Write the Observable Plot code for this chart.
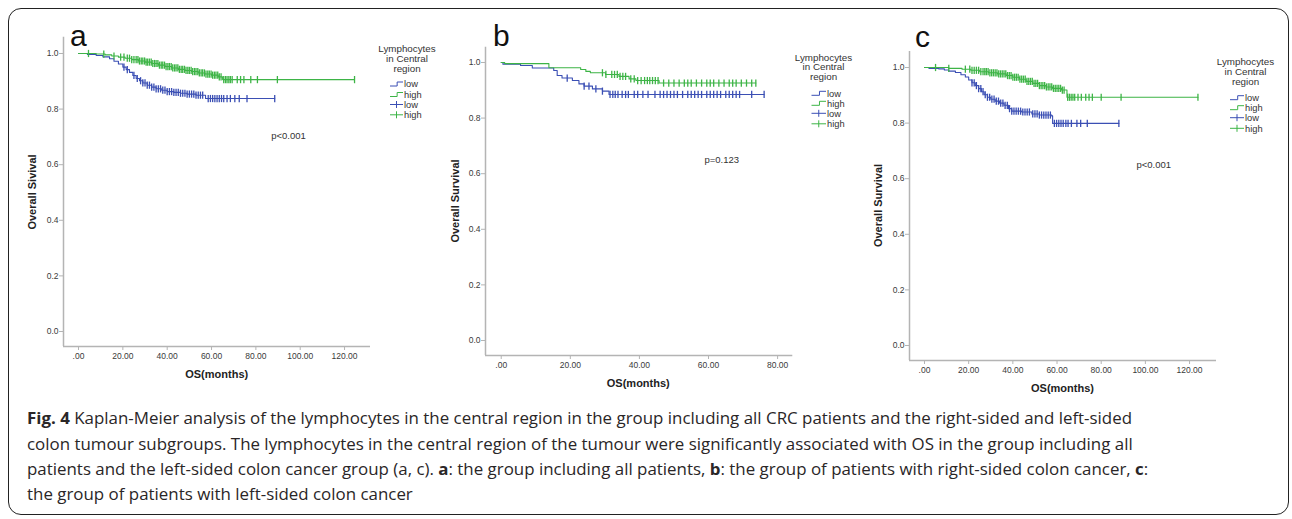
<!DOCTYPE html>
<html><head><meta charset="utf-8">
<script src="https://cdn.jsdelivr.net/npm/d3@7"></script>
<script src="https://cdn.jsdelivr.net/npm/@observablehq/plot@0.6"></script>
<style>
body{margin:0;background:#fff;}
#root{position:relative;width:1292px;height:519px;overflow:hidden;font-family:"Liberation Sans",Arial,sans-serif;background:#fff;}
.box{position:absolute;left:8px;top:8px;width:1281px;height:507px;border:1.6px solid #222;border-radius:13px;box-sizing:border-box;}
.panel{position:absolute;top:0;}
.panel svg text{fill:#3a3a3a;}
#overlay{position:absolute;left:0;top:0;}
.cap{position:absolute;left:27px;white-space:nowrap;font-family:"Open Sans","Noto Sans",sans-serif;font-size:16.5px;line-height:25px;color:#2a2627;transform-origin:0 50%;}
.cap b{font-weight:700;}
</style></head>
<body><div id="root"><div class="box"></div></div>
<script>
// ---------------- data ----------------
const yTickValues = [0, 0.2, 0.4, 0.6, 0.8, 1.0];
const xTicksLong = [0, 20, 40, 60, 80, 100, 120];
const xTicksShort = [0, 20, 40, 60, 80];
const groupLabels = ["low", "high"];
const legendTitle = ["Lymphocytes", "in Central", "region"];
const panelLetters = ["a", "b", "c"];
const yTitles = ["Overall Sivival", "Overall Survival", "Overall Survival"];
const xTitle = "OS(months)";
const pValues = ["p<0.001", "p=0.123", "p<0.001"];

// panel a: all patients  [time (months), survival]
const aLowSteps = [[0,1],[4,0.997],[8,0.993],[11,0.988],[14,0.981],[16,0.972],[18,0.962],[20,0.951],[21.5,0.942],[23,0.932],[24.5,0.921],[26,0.910],[27.5,0.902],[29,0.894],[31,0.886],[33,0.879],[35,0.873],[37.5,0.868],[40,0.863],[43,0.860],[46,0.857],[49,0.854],[53,0.850],[57.3,0.838],[88.5,0.838]];
const aHighSteps = [[0,1],[8,0.998],[12,0.995],[15,0.991],[18,0.987],[21,0.983],[24,0.978],[27,0.973],[30,0.969],[33,0.964],[36,0.958],[39,0.953],[42,0.948],[45,0.943],[48,0.939],[51,0.935],[54,0.930],[57,0.926],[60,0.922],[63,0.916],[65,0.906],[124.5,0.906]];
const aLowCensor = [20.5,22,25,26.5,28,29,30,31,32,33,34,35,36,37,38,39,40,41,42,43,44,45,46,47,48,49,50,51,52,53,54,55,56,58.5,59.5,60.5,61.5,62.5,63.5,64.5,65.5,67,68.5,70.5,72.5,76,88.5];
const aHighCensor = [4.5,11.4,16,19,20.5,22,23,24,25,26,26.8,27.5,28.3,29,29.8,30.5,31.2,32,32.8,33.5,34.3,35,35.8,36.5,37.3,38,38.8,39.5,40.3,41,41.8,42.5,43.3,44,44.8,45.5,46.3,47,47.8,48.5,49.3,50,50.8,51.5,52.3,53,53.8,54.5,55.3,56,56.8,57.5,58.3,59,59.8,60.5,61.3,62,62.8,63.5,64.3,65.5,66.3,67,67.8,68.5,69.3,71.6,73.1,74.6,77.7,80.7,89.7,124.5];

// panel b: right-sided colon cancer
const bLowSteps = [[0,1],[0.5,0.994],[5.6,0.989],[9,0.980],[15.2,0.971],[16.2,0.953],[17.6,0.944],[20.6,0.935],[22.5,0.923],[24,0.915],[26.4,0.905],[29.3,0.897],[31.2,0.885],[76.1,0.885]];
const bHighSteps = [[0,1],[1,0.996],[13.8,0.981],[23,0.975],[24.5,0.968],[25.8,0.963],[30.2,0.957],[34.1,0.950],[37,0.941],[39,0.935],[45.7,0.926],[73.7,0.926]];
const bLowCensor = [19.1,24,25.4,27.4,29.3,31.5,32.3,33,33.8,35,36,36.8,38.5,39.5,41,42.5,44.5,46,47,48,49,50,51,52.5,54,55,56,57,58,59.5,60.5,61.5,62.5,63.5,65,66,67,68,69,72.5,76.1];
const bHighCensor = [29.3,30.3,32,32.8,33.6,34.4,35.2,36,37.5,38.5,39.5,40.5,41.5,42.3,43,43.8,44.6,45.4,47,48.5,50,51.5,53,54,55,56.5,58,59.5,60.5,61.5,63,64.5,66,67,68,69.5,71,72.5,73.7];

// panel c: left-sided colon cancer
const cLowSteps = [[0,1],[2,0.997],[6.5,0.995],[9,0.991],[11,0.987],[14,0.982],[16.5,0.974],[18.5,0.966],[20,0.955],[21.5,0.945],[23,0.935],[24.5,0.924],[25.8,0.913],[27,0.902],[28.5,0.893],[30,0.886],[32,0.879],[34,0.872],[36,0.864],[38,0.852],[39.5,0.843],[44,0.840],[48.6,0.833],[52,0.829],[57.6,0.826],[58,0.799],[88,0.799]];
const cHighSteps = [[0,1],[11,0.997],[17,0.994],[21,0.990],[25,0.985],[29,0.981],[33,0.977],[37,0.971],[40,0.965],[43,0.958],[46,0.950],[49,0.943],[52,0.935],[55,0.930],[58,0.925],[62,0.919],[64.5,0.893],[123.8,0.893]];
const cLowCensor = [21.5,22.5,23.5,24.5,25.5,26.5,27.5,28.5,29.5,30.5,31.5,32.5,33.5,34.5,35.5,36.5,37.5,38.5,39.5,40.5,41.5,42.5,43.5,44.5,45.5,46.5,47.5,49,50,51,52,53,54,55,56,57,58.8,59.8,60.8,61.8,62.8,64,65,66.5,69,70.7,73.7,88];
const cHighCensor = [5,11,18.5,20.5,21.5,22.5,23.5,24.5,25.5,26.5,27.3,28,28.8,29.6,30.4,31.2,32,32.8,33.6,34.4,35.2,36,36.8,37.6,38.4,39.2,40,40.8,41.6,42.4,43.2,44,44.8,45.6,46.4,47.2,48,48.8,49.6,50.4,51.2,52,52.8,53.6,54.4,55.2,56,56.8,57.6,58.4,59.2,60,60.8,61.6,62.4,63.2,64.8,65.6,66.4,67.2,68,69.5,71,73,74.5,76,80,89,123.8];

// ---------------- styles / layout ----------------
const LOW = "#3b4fb4", HIGH = "#3db446", AXIS = "#b4b4b4";
const layout = [
  {left:0,   width:430, height:400, mL:63, mR:60,   mT:36.7, mB:54, xDom:[-6.77,131.7], yDom:[-0.054,1.0586], xTicks:xTicksLong,
   low:aLowSteps, high:aHighSteps, lowC:aLowCensor, highC:aHighCensor,
   letter:[70,46], yT:[32,192], xT:[216.7,374], p:[288.5,136], leg:{tx:407,ty:[48.3,58.5,68.3],iy:[84,94.5,104.5,114.8],s0:390,s1:403,t:404}},
  {left:430, width:430, height:400, mL:55, mR:67.7, mT:46.7, mB:45, xDom:[-4.55,84.4], yDom:[-0.054,1.055], xTicks:xTicksShort,
   low:bLowSteps, high:bHighSteps, lowC:bLowCensor, highC:bHighCensor,
   letter:[493,46], yT:[455,201], xT:[638.3,383.3], p:[721.7,160], leg:{tx:823.5,ty:[57.3,67,77],iy:[93.3,103.3,113.3,123.8],s0:811.5,s1:826,t:827}},
  {left:860, width:432, height:400, mL:49, mR:76,   mT:51, mB:40, xDom:[-6.79,132.2], yDom:[-0.054,1.0576], xTicks:xTicksLong,
   low:cLowSteps, high:cHighSteps, lowC:cLowCensor, highC:cHighCensor,
   letter:[915,47], yT:[878.3,205.5], xT:[1062.5,388.3], p:[1153.7,165], leg:{tx:1245.5,ty:[61.7,71.3,81.3],iy:[97.7,107.7,117.7,128.3],s0:1230,s1:1244,t:1245}}
];

const survAt = (steps, t) => { let s = steps[0][1]; for (const [tt, ss] of steps) { if (tt <= t) s = ss; } return s; };
const toRows = steps => steps.map(([t, s]) => ({t, s}));
const censRows = (times, steps) => times.map(t => ({t, s: survAt(steps, t)}));
const vtick = { draw(ctx, size) { const r = Math.sqrt(size / Math.PI); ctx.moveTo(0, -r); ctx.lineTo(0, r); } };
const fmtX = d => d === 0 ? ".00" : d.toFixed(2);

const root = document.getElementById("root");

layout.forEach(cfg => {
  const chart = Plot.plot({
    width: cfg.width, height: cfg.height,
    marginLeft: cfg.mL, marginRight: cfg.mR, marginTop: cfg.mT, marginBottom: cfg.mB,
    style: {background: "transparent", color: AXIS, fontFamily: "'Liberation Sans', Arial, sans-serif", fontSize: "8.5px", overflow: "visible"},
    x: {domain: cfg.xDom, ticks: cfg.xTicks, tickFormat: fmtX, tickSize: 4, tickPadding: 2, label: null},
    y: {domain: cfg.yDom, ticks: yTickValues, tickFormat: d => d.toFixed(1), tickSize: 4, tickPadding: 1, label: null},
    marks: [
      Plot.ruleX([cfg.xDom[0]], {stroke: AXIS, strokeWidth: 1.5}),
      Plot.ruleY([cfg.yDom[0]], {stroke: AXIS, strokeWidth: 1.5}),
      Plot.line(toRows(cfg.low), {x: "t", y: "s", curve: "step-after", stroke: LOW, strokeWidth: 1.1}),
      Plot.line(toRows(cfg.high), {x: "t", y: "s", curve: "step-after", stroke: HIGH, strokeWidth: 1.1}),
      Plot.dot(censRows(cfg.lowC, cfg.low), {x: "t", y: "s", symbol: vtick, r: 3.6, stroke: LOW, fill: "none", strokeWidth: 1.3}),
      Plot.dot(censRows(cfg.highC, cfg.high), {x: "t", y: "s", symbol: vtick, r: 3.6, stroke: HIGH, fill: "none", strokeWidth: 1.3})
    ]
  });
  const div = document.createElement("div");
  div.className = "panel";
  div.style.left = cfg.left + "px";
  div.appendChild(chart);
  root.appendChild(div);
});

// overlay texts and legends
const svg = d3.select(root).append("svg").attr("id", "overlay").attr("width", 1292).attr("height", 519)
  .style("font-family", "'Liberation Sans', Arial, sans-serif");
layout.forEach((cfg, i) => {
  svg.append("text").attr("x", cfg.letter[0]).attr("y", cfg.letter[1]).attr("font-size", 30).attr("fill", "#111").text(panelLetters[i]);
  svg.append("text").attr("transform", `translate(${cfg.yT[0]},${cfg.yT[1]}) rotate(-90)`).attr("text-anchor", "middle").attr("dy", "0.35em")
    .attr("font-size", 11).attr("font-weight", "bold").attr("fill", "#222").text(yTitles[i]);
  svg.append("text").attr("x", cfg.xT[0]).attr("y", cfg.xT[1]).attr("text-anchor", "middle").attr("dy", "0.35em")
    .attr("font-size", 11).attr("font-weight", "bold").attr("fill", "#222").text(xTitle);
  svg.append("text").attr("x", cfg.p[0]).attr("y", cfg.p[1]).attr("text-anchor", "middle").attr("dy", "0.35em")
    .attr("font-size", 9.5).attr("fill", "#333").text(pValues[i]);
  const L = cfg.leg;
  legendTitle.forEach((s, j) => svg.append("text").attr("x", L.tx).attr("y", L.ty[j]).attr("text-anchor", "middle").attr("dy", "0.35em")
    .attr("font-size", 9.8).attr("fill", "#333").text(s));
  const items = [[LOW, groupLabels[0], "step"], [HIGH, groupLabels[1], "step"], [LOW, groupLabels[0], "cross"], [HIGH, groupLabels[1], "cross"]];
  items.forEach(([col, lab, kind], j) => {
    const y = L.iy[j];
    const mid = (L.s0 + L.s1) / 2;
    const d = kind === "step"
      ? `M${L.s0},${y + 2}H${L.s0 + (L.s1 - L.s0) * 0.55}V${y - 2}H${L.s1}`
      : `M${L.s0},${y}H${L.s1}M${mid},${y - 3.5}V${y + 3.5}`;
    svg.append("path").attr("d", d).attr("fill", "none").attr("stroke", col).attr("stroke-width", 1);
    svg.append("text").attr("x", L.t).attr("y", y).attr("dy", "0.35em").attr("font-size", 9.3).attr("fill", "#333").text(lab);
  });
});

// caption
const captionLines = [
  "<b>Fig. 4</b> Kaplan-Meier analysis of the lymphocytes in the central region in the group including all CRC patients and the right-sided and left-sided",
  "colon tumour subgroups. The lymphocytes in the central region of the tumour were significantly associated with OS in the group including all",
  "patients and the left-sided colon cancer group (a, c). <b>a</b>: the group including all patients, <b>b</b>: the group of patients with right-sided colon cancer, <b>c</b>:",
  "the group of patients with left-sided colon cancer"
];
const captionCenters = [417, 443, 468, 493];
const capEls = captionLines.map((html, i) => {
  const el = document.createElement("div");
  el.className = "cap";
  el.style.top = (captionCenters[i] - 12.5) + "px";
  el.innerHTML = html;
  root.appendChild(el);
  return el;
});
const w0 = capEls[0].getBoundingClientRect().width;
const sx = 1105 / w0;
capEls.forEach(el => el.style.transform = `scaleX(${sx})`);
</script>
</body></html>
